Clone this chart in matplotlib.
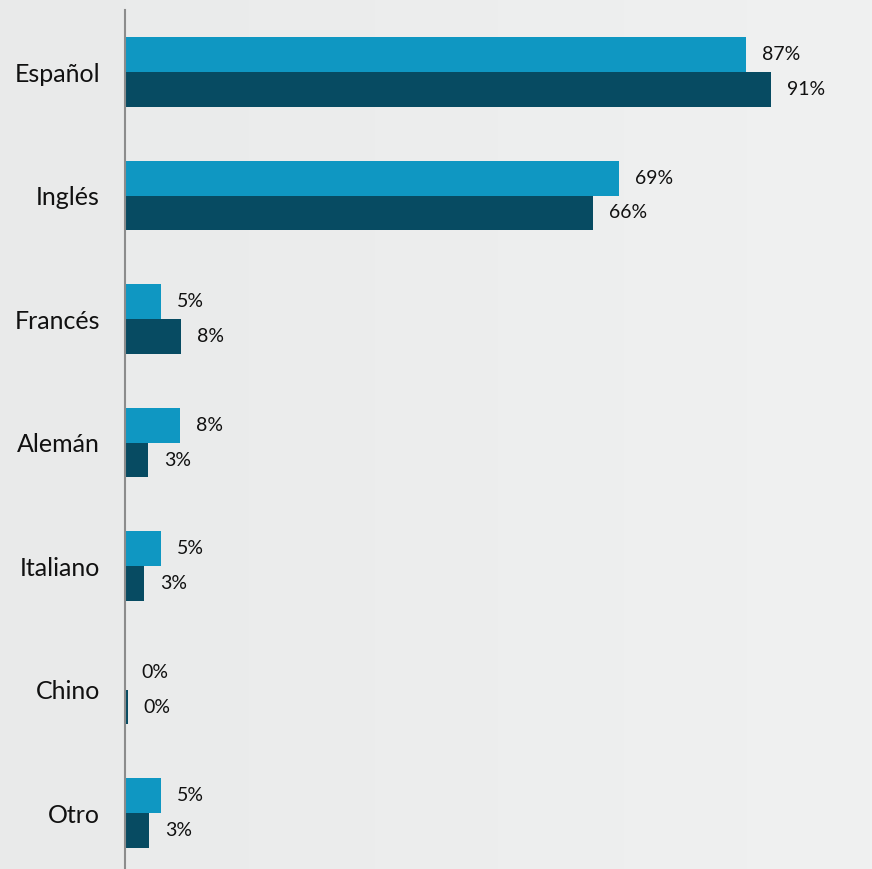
import numpy as np
import matplotlib
matplotlib.use("Agg")
import matplotlib.pyplot as plt

categories = ["Español", "Inglés", "Francés", "Alemán", "Italiano", "Chino", "Otro"]
# bar lengths (labels show them rounded)
serie_a = [87.1, 69.3, 5.0, 7.7, 5.0, 0.0, 5.0]
serie_b = [90.7, 65.6, 7.9, 3.2, 2.7, 0.4, 3.4]

color_a = "#0F97C2"
color_b = "#074B62"

plt.rcParams['font.family'] = ['Lato', 'DejaVu Sans']

fig = plt.figure(figsize=(8.72, 8.69), dpi=100)

# soft gray background, a bit lighter to the right
bg = fig.add_axes([0, 0, 1, 1], zorder=0)
grad = np.linspace(0, 1, 256).reshape(1, -1)
bg.imshow(grad, aspect="auto", cmap=matplotlib.colors.LinearSegmentedColormap.from_list(
    "bg", ["#E9EAEA", "#F0F1F1"]), extent=[0, 1, 0, 1])
bg.axis("off")

ax = fig.add_axes([125 / 872, 0, 1 - 125 / 872, 1 - 10 / 869], zorder=1)
ax.set_facecolor("none")

y = np.arange(len(categories))
h = 0.283
ax.barh(y - h / 2, serie_a, height=h, color=color_a)
ax.barh(y + h / 2, serie_b, height=h, color=color_b)

for i in range(len(categories)):
    ax.annotate(f"{serie_a[i]:.0f}%", (serie_a[i], y[i] - h / 2), xytext=(16, 0),
                textcoords="offset pixels", va="center", ha="left", fontsize=14, color="#111111")
    ax.annotate(f"{serie_b[i]:.0f}%", (serie_b[i], y[i] + h / 2), xytext=(16, 0),
                textcoords="offset pixels", va="center", ha="left", fontsize=14, color="#111111")

ax.set_xlim(0, 104.8)
ax.set_ylim(6.453, -0.502)
ax.set_yticks(y)
ax.set_yticklabels(categories, fontsize=18, color="#111111")
ax.tick_params(axis="y", length=0, pad=18)
ax.set_xticks([])
for s in ["top", "right", "bottom"]:
    ax.spines[s].set_visible(False)
ax.spines["left"].set_color("#8C8C8C")
ax.spines["left"].set_linewidth(1.5)

fig.savefig("out.png", dpi=100)
